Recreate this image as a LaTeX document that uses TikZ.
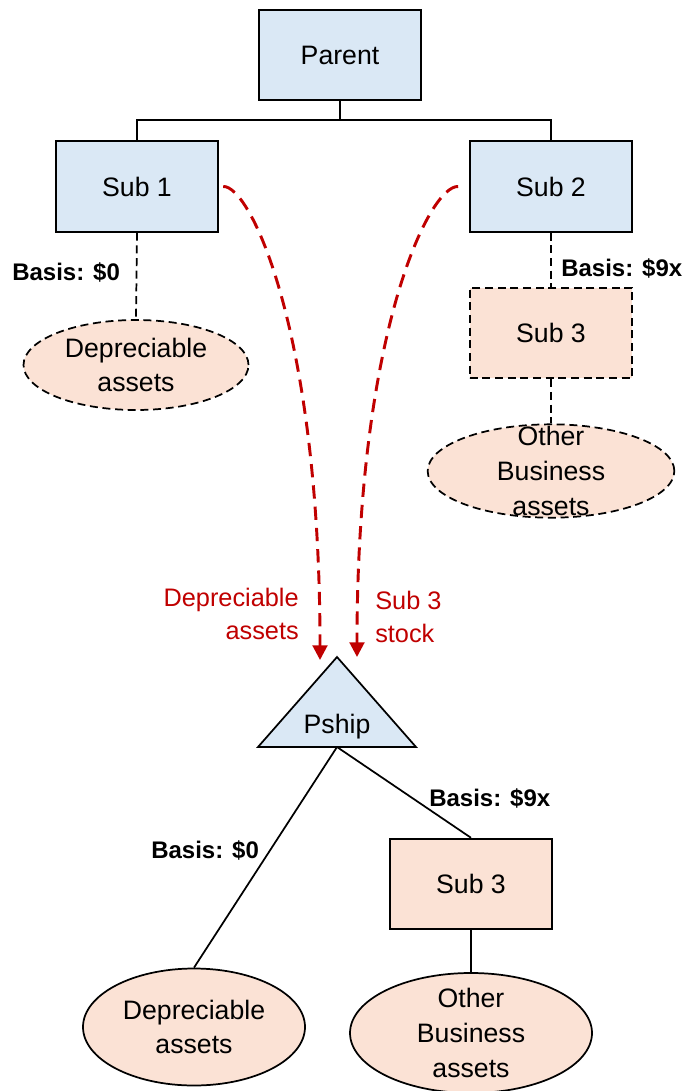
\documentclass[tikz,border=0pt]{standalone}
\usepackage{fontspec}
\setmainfont{Liberation Sans}
\usetikzlibrary{shapes.geometric,arrows.meta}
\definecolor{bluefill}{HTML}{DAE8F5}
\definecolor{peach}{HTML}{FBE2D5}
\definecolor{darkred}{HTML}{C00000}
\begin{document}
\begin{tikzpicture}[x=0.75pt,y=-0.75pt,
  txt/.style={inner sep=0pt, align=center, font=\fontsize{20}{26}\selectfont},
  box/.style={draw, line width=1.3pt, minimum width=122pt, minimum height=68pt, inner sep=0pt, font=\fontsize{20}{26}\selectfont},
  dbox/.style={box, dash pattern=on 6pt off 3.5pt},
  ell/.style={ellipse, draw, line width=1.3pt, fill=peach, inner sep=0pt},
  dell/.style={ell, dash pattern=on 6pt off 3.5pt},
  conn/.style={draw, line width=1.3pt},
  dconn/.style={draw, line width=1.3pt, dash pattern=on 6pt off 3.5pt},
  basis/.style={inner sep=0pt, font=\bfseries\fontsize{18}{22}\selectfont},
  redtxt/.style={inner sep=0pt, text=darkred, font=\fontsize{19}{25}\selectfont},
  redarrow/.style={draw=darkred, line width=2.2pt, dash pattern=on 10pt off 6pt, -{Triangle[width=11pt,length=11pt]}}
]
\useasboundingbox (0,0) rectangle (692,1091);

% top tree
\node[box, fill=bluefill] (parent) at (340,55) {Parent};
\node[box, fill=bluefill] (sub1) at (137,186.5) {Sub 1};
\node[box, fill=bluefill] (sub2) at (551,186.5) {Sub 2};
\coordinate (bar) at (340,120);
\draw[conn] (parent.south) -- (bar) -| (sub1.north);
\draw[conn] (bar) -| (sub2.north);

% left branch
\node[dell, minimum width=168.75pt, minimum height=67.5pt] (el1) at (136,365) {};
\node[txt] (el1t) at (el1.center) {Depreciable\\assets};
\draw[dconn] (sub1.south) -- (el1.north);
\node[basis, anchor=west] (b1) at (12,272) {Basis: \$0};

% right branch
\node[dbox, fill=peach] (sub3a) at (551,333) {Sub 3};
\draw[dconn] (sub2.south) -- (sub3a.north);
\node[basis, anchor=west] (b2) at (561,268) {Basis: \$9x};
\node[dell, minimum width=185pt, minimum height=70pt] (el2) at (551,471) {};
\node[txt] (el2t) at (el2.center) {Other\\Business\\assets};
\draw[dconn] (sub3a.south) -- (el2.north);

% partnership
\coordinate (papex) at (337,657);
\coordinate (pbl) at (258,747);
\coordinate (pbr) at (416,747);
\coordinate (pbase) at (337,747);
\draw[line width=1.3pt, fill=bluefill, line join=miter] (papex) -- (pbr) -- (pbl) -- cycle;
\node[txt] (pship) at (337,727) {Pship};

% red arrows
\coordinate (a1e) at (320,660);
\coordinate (a2e) at (357,657);
\draw[redarrow] ([xshift=3pt]sub1.east) .. controls (250,185) and (320,330) .. (a1e);
\draw[redarrow] ([xshift=-8pt]sub2.west) .. controls (430,185) and (357,330) .. (a2e);
\node[redtxt, anchor=east, align=right] (lbl1) at (299,614) {Depreciable\\assets};
\node[redtxt, anchor=west, align=left] (lbl2) at (375,617) {Sub 3\\stock};

% bottom tree
\node[box, fill=peach] (sub3b) at (471,884) {Sub 3};
\node[ell, minimum width=166.5pt, minimum height=87.75pt] (el3) at (194,1027) {};
\node[txt] (el3t) at (el3.center) {Depreciable\\assets};
\node[ell, minimum width=181.5pt, minimum height=90pt] (el4) at (471,1033) {};
\node[txt] (el4t) at (el4.center) {Other\\Business\\assets};
\draw[conn] (pbase) -- (el3.north);
\draw[conn] (pbase) -- (sub3b.north);
\draw[conn] (sub3b.south) -- (el4.north);
\node[basis, anchor=west] (b3) at (429,798) {Basis: \$9x};
\node[basis, anchor=west] (b4) at (151,850) {Basis: \$0};
\end{tikzpicture}
\end{document}
